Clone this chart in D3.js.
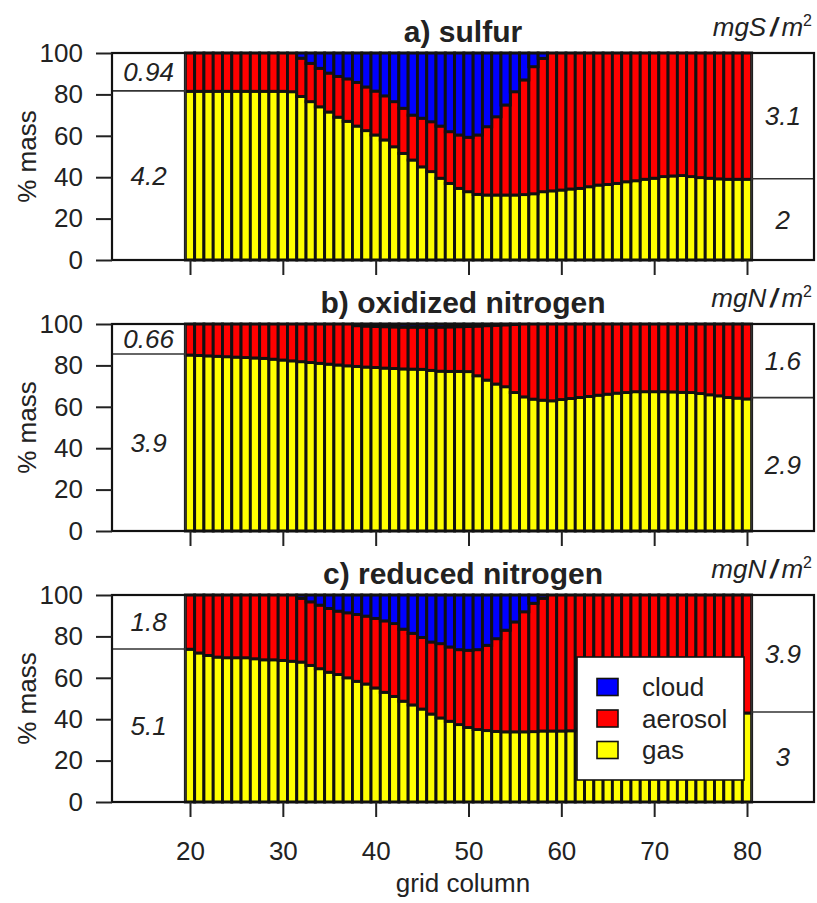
<!DOCTYPE html>
<html>
<head>
<meta charset="utf-8">
<script src="https://cdn.jsdelivr.net/npm/d3@7"></script>
<style>
  body { margin: 0; background: #fff; }
  svg { display: block; font-family: "Liberation Sans", Arial, Helvetica, sans-serif; }
</style>
</head>
<body>
<svg id="chart" width="817" height="903"></svg>
<script>
const columns = d3.range(20, 81);
const keys = ["gas", "aerosol", "cloud"];
const colors = { cloud: "#0000ff", aerosol: "#ff0000", gas: "#ffff00" };
const legendKeys = ["cloud", "aerosol", "gas"];
const yTicks = [0, 20, 40, 60, 80, 100];
const xTicks = [20, 30, 40, 50, 60, 70, 80];

// a) sulfur, % of mass per grid column
const sulfurGas = [81.5, 81.5, 81.5, 81.5, 81.5, 81.5, 81.5, 81.5, 81.5, 81.5, 81.5, 81.3,
  79, 76.5, 74, 71.5, 69, 67, 64.7, 62.5, 60.4, 58, 54.7, 51.5, 48.3, 45, 42.7, 39.5, 37, 34.6,
  33, 31.7, 31.4, 31.4, 31.4, 31.4, 31.6, 32, 33, 33.4, 33.8, 34.3, 34.6, 35.4, 36.2, 36.5, 37,
  37.8, 38.3, 39, 39.5, 40.3, 40.6, 40.8, 40.3, 39.8, 39.5, 39.2, 39, 39, 39];
const sulfurAerosol = [18.5, 18.5, 18.5, 18.5, 18.5, 18.5, 18.5, 18.5, 18.5, 18.5, 18.5, 18.7,
  18.5, 18.5, 18.6, 18.8, 19.7, 20.5, 21.1, 21.1, 21.2, 21.3, 21.8, 21.8, 21.7, 23.5, 24.1, 25.2, 25, 25.8,
  26.3, 28.7, 33, 37.8, 43.5, 49.9, 55.4, 61.4, 64.4, 66.6, 66.2, 65.7, 65.4, 64.6, 63.8, 63.5, 63,
  62.2, 61.7, 61, 60.5, 59.7, 59.4, 59.2, 59.7, 60.2, 60.5, 60.8, 61, 61, 61];
const sulfurCloud = [0, 0, 0, 0, 0, 0, 0, 0, 0, 0, 0, 0,
  2.5, 5, 7.4, 9.7, 11.3, 12.5, 14.2, 16.4, 18.4, 20.7, 23.5, 26.7, 30, 31.5, 33.2, 35.3, 38, 39.6,
  40.7, 39.6, 35.6, 30.8, 25.1, 18.7, 13, 6.6, 2.6, 0, 0, 0, 0, 0, 0, 0, 0,
  0, 0, 0, 0, 0, 0, 0, 0, 0, 0, 0, 0, 0, 0];

// b) oxidized nitrogen
const oxNGas = [85, 84.8, 84.6, 84.4, 84.2, 84, 83.8, 83.6, 83.4, 83, 82.6, 82.2,
  81.8, 81.4, 81, 80.6, 80.2, 79.8, 79.5, 79.2, 79, 78.7, 78.5, 78.3, 78.2, 78.1, 77.6, 77.2, 77.1, 77.1,
  77, 75, 72.9, 71, 69.7, 66.9, 64.8, 63.7, 63.2, 62.9, 63.5, 64, 64.5, 65, 65.6, 66.1, 66.6,
  66.9, 67.3, 67.3, 67.3, 67.3, 67.2, 67, 66.9, 66.4, 65.8, 65.3, 64.5, 64.2, 63.8];
const oxNAerosol = [15, 15.2, 15.4, 15.6, 15.8, 16, 16.2, 16.4, 16.6, 17, 17.4, 17.8,
  18.2, 18.6, 19, 19.4, 19.8, 20.2, 19.7, 19.8, 19.8, 20, 20.1, 20.2, 20.3, 20.4, 20.9, 21.3, 21.5, 21.6,
  21.8, 24, 26.3, 28.4, 29.9, 32.9, 35.2, 36.3, 36.8, 37.1, 36.5, 36, 35.5, 35, 34.4, 33.9, 33.4,
  33.1, 32.7, 32.7, 32.7, 32.7, 32.8, 33, 33.1, 33.6, 34.2, 34.7, 35.5, 35.8, 36.2];
const oxNCloud = [0, 0, 0, 0, 0, 0, 0, 0, 0, 0, 0, 0,
  0, 0, 0, 0, 0, 0, 0.8, 1, 1.2, 1.3, 1.4, 1.5, 1.5, 1.5, 1.5, 1.5, 1.4, 1.3,
  1.2, 1, 0.8, 0.6, 0.4, 0.2, 0, 0, 0, 0, 0, 0, 0, 0, 0, 0, 0,
  0, 0, 0, 0, 0, 0, 0, 0, 0, 0, 0, 0, 0, 0];

// c) reduced nitrogen
const redNGas = [73.8, 72, 70.8, 70, 69.7, 69.7, 69.7, 69.2, 68.7, 68.7, 68.4, 68,
  67.6, 66, 64.4, 62.7, 61.6, 60, 58.3, 57, 55.1, 53, 51, 48.7, 46.9, 44.9, 42.5, 40.6, 39, 37.4,
  36, 35, 34.5, 34.1, 33.9, 33.9, 33.9, 34, 34.3, 34.3, 34.3, 34.4, 35.2, 35.8, 36.5, 37.1, 37.6,
  38.2, 38.9, 39.4, 39.9, 40.3, 40.8, 41.2, 41.5, 41.9, 42.2, 42.5, 42.7, 42.9, 43];
const redNAerosol = [26.2, 28, 29.2, 30, 30.3, 30.3, 30.3, 30.8, 31.3, 31.3, 31.6, 32,
  30.8, 30.7, 30.7, 30.8, 30.6, 31.4, 32.3, 32.8, 33.6, 34.5, 35.2, 34.8, 34.6, 34.6, 34.8, 35.9, 35.9, 36.2,
  37.3, 38.6, 41.2, 44.8, 49.1, 53.1, 58, 62, 64.1, 65.7, 65.7, 65.6, 64.8, 64.2, 63.5, 62.9, 62.4,
  61.8, 61.1, 60.6, 60.1, 59.7, 59.2, 58.8, 58.5, 58.1, 57.8, 57.5, 57.3, 57.1, 57];
const redNCloud = [0, 0, 0, 0, 0, 0, 0, 0, 0, 0, 0, 0,
  1.6, 3.3, 4.9, 6.5, 7.8, 8.6, 9.4, 10.2, 11.3, 12.5, 13.8, 16.5, 18.5, 20.5, 22.7, 23.5, 25.1, 26.4,
  26.7, 26.4, 24.3, 21.1, 17, 13, 8.1, 4, 1.6, 0, 0, 0, 0, 0, 0, 0, 0,
  0, 0, 0, 0, 0, 0, 0, 0, 0, 0, 0, 0, 0, 0];

// column totals at the inflow (left) and outflow (right) edge, mg/m2: [particle+cloud, gas]
const titles = ["a) sulfur", "b) oxidized nitrogen", "c) reduced nitrogen"];
const unitSpecies = ["S", "N", "N"];
const inflowMass = [[0.94, 4.2], [0.66, 3.9], [1.8, 5.1]];
const outflowMass = [[3.1, 2], [1.6, 2.9], [3.9, 3]];

const panels = [
  { gas: sulfurGas, aerosol: sulfurAerosol, cloud: sulfurCloud },
  { gas: oxNGas, aerosol: oxNAerosol, cloud: oxNCloud },
  { gas: redNGas, aerosol: redNAerosol, cloud: redNCloud }
];

const svg = d3.select("#chart");
const frameLeft = 112, frameRight = 814;
const panelTops = [53, 324, 595];
const panelH = 207;
const txt = "#222";

const x = d3.scaleLinear().domain([20, 80]).range([190, 747]);
const bw = x(21) - x(20);

panels.forEach((p, pi) => {
  const top = panelTops[pi];
  const bottom = top + panelH;
  const y = d3.scaleLinear().domain([0, 100]).range([bottom, top]);
  const g = svg.append("g");

  const rows = columns.map((c, i) => ({ col: c, gas: p.gas[i], aerosol: p.aerosol[i], cloud: p.cloud[i] }));
  const series = d3.stack().keys(keys)(rows);

  g.selectAll("g.layer")
    .data(series)
    .join("g")
    .attr("class", "layer")
    .attr("fill", (s) => colors[s.key])
    .selectAll("rect")
    .data((s) => s.filter((d) => d[1] - d[0] > 0))
    .join("rect")
    .attr("x", (d) => x(d.data.col) - bw / 2)
    .attr("width", bw)
    .attr("y", (d) => y(d[1]))
    .attr("height", (d) => y(d[0]) - y(d[1]))
    .attr("stroke", "#111")
    .attr("stroke-width", 2.9);

  // side boxes with the edge totals
  const xl = x(19.5), xr = x(80.5);
  const inFrac = (inflowMass[pi][1] / (inflowMass[pi][0] + inflowMass[pi][1])) * 100;
  const outFrac = (outflowMass[pi][1] / (outflowMass[pi][0] + outflowMass[pi][1])) * 100;

  g.append("line").attr("x1", frameLeft).attr("x2", xl).attr("y1", y(inFrac)).attr("y2", y(inFrac))
    .attr("stroke", "#333").attr("stroke-width", 1.6);
  g.append("line").attr("x1", xr).attr("x2", frameRight).attr("y1", y(outFrac)).attr("y2", y(outFrac))
    .attr("stroke", "#333").attr("stroke-width", 1.6);
  [xl, xr].forEach((xx) => {
    g.append("line").attr("x1", xx).attr("x2", xx).attr("y1", top).attr("y2", bottom)
      .attr("stroke", "#333").attr("stroke-width", 1.6);
  });

  const sideLabel = (cx, cy, v) =>
    g.append("text").attr("x", cx).attr("y", cy).attr("dy", "0.36em")
      .attr("text-anchor", "middle").attr("font-size", 26).attr("font-style", "italic")
      .attr("fill", txt).text(v);
  sideLabel((frameLeft + xl) / 2, (top + y(inFrac)) / 2, inflowMass[pi][0]);
  sideLabel((frameLeft + xl) / 2, (y(inFrac) + bottom) / 2, inflowMass[pi][1]);
  sideLabel((xr + frameRight) / 2, (top + y(outFrac)) / 2, outflowMass[pi][0]);
  sideLabel((xr + frameRight) / 2, (y(outFrac) + bottom) / 2, outflowMass[pi][1]);

  g.append("rect").attr("x", frameLeft).attr("y", top)
    .attr("width", frameRight - frameLeft).attr("height", panelH)
    .attr("fill", "none").attr("stroke", "#111").attr("stroke-width", 2.2);

  // axes
  const yAxis = g.append("g").attr("transform", `translate(${frameLeft},0)`)
    .call(d3.axisLeft(y).tickValues(yTicks).tickSize(16).tickSizeOuter(0).tickPadding(13));
  yAxis.select(".domain").remove();
  yAxis.selectAll("line").attr("stroke", "#222").attr("stroke-width", 2);
  yAxis.selectAll("text").attr("font-size", 26).attr("fill", txt).attr("font-family", null);

  const last = pi === panels.length - 1;
  const xAxis = g.append("g").attr("transform", `translate(0,${bottom})`)
    .call(d3.axisBottom(x).tickValues(xTicks).tickSize(15).tickSizeOuter(0).tickPadding(25)
      .tickFormat(last ? d3.format("d") : () => ""));
  xAxis.select(".domain").remove();
  xAxis.selectAll("line").attr("stroke", "#222").attr("stroke-width", 2);
  xAxis.selectAll("text").attr("font-size", 26).attr("fill", txt).attr("font-family", null);

  g.append("text").attr("transform", "rotate(-90)")
    .attr("x", -(top + panelH / 2)).attr("y", 36)
    .attr("text-anchor", "middle").attr("font-size", 26).attr("fill", txt).text("% mass");

  g.append("text").attr("x", (frameLeft + frameRight) / 2).attr("y", top - 11)
    .attr("text-anchor", "middle").attr("font-size", 30).attr("font-weight", "bold")
    .attr("fill", txt).text(titles[pi]);

  const unit = g.append("text").attr("x", 812).attr("y", top - 17)
    .attr("text-anchor", "end").attr("font-size", 26).attr("font-style", "italic").attr("fill", txt);
  unit.append("tspan").text("mg" + unitSpecies[pi]);
  unit.append("tspan").attr("dx", 4).attr("font-weight", "bold").text("/");
  unit.append("tspan").attr("dx", 4).text("m");
  unit.append("tspan").attr("dy", -10).attr("font-size", 16).attr("font-style", "normal").text("2");

  if (last) {
    const lg = g.append("g").attr("transform", "translate(577,657)");
    lg.append("rect").attr("width", 167).attr("height", 123)
      .attr("fill", "#fff").attr("stroke", "#111").attr("stroke-width", 1.6);
    const item = lg.selectAll("g.item").data(legendKeys).join("g")
      .attr("class", "item")
      .attr("transform", (d, i) => `translate(0,${30 + i * 31.5})`);
    item.append("rect").attr("x", 20).attr("y", -8.5).attr("width", 21).attr("height", 17)
      .attr("fill", (d) => colors[d]).attr("stroke", "#111").attr("stroke-width", 1.6);
    item.append("text").attr("x", 65).attr("dy", "0.36em").attr("font-size", 26)
      .attr("fill", txt).text((d) => d);
  }
});

svg.append("text").attr("x", (frameLeft + frameRight) / 2).attr("y", 892)
  .attr("text-anchor", "middle").attr("font-size", 26).attr("fill", txt).text("grid column");
</script>
</body>
</html>
